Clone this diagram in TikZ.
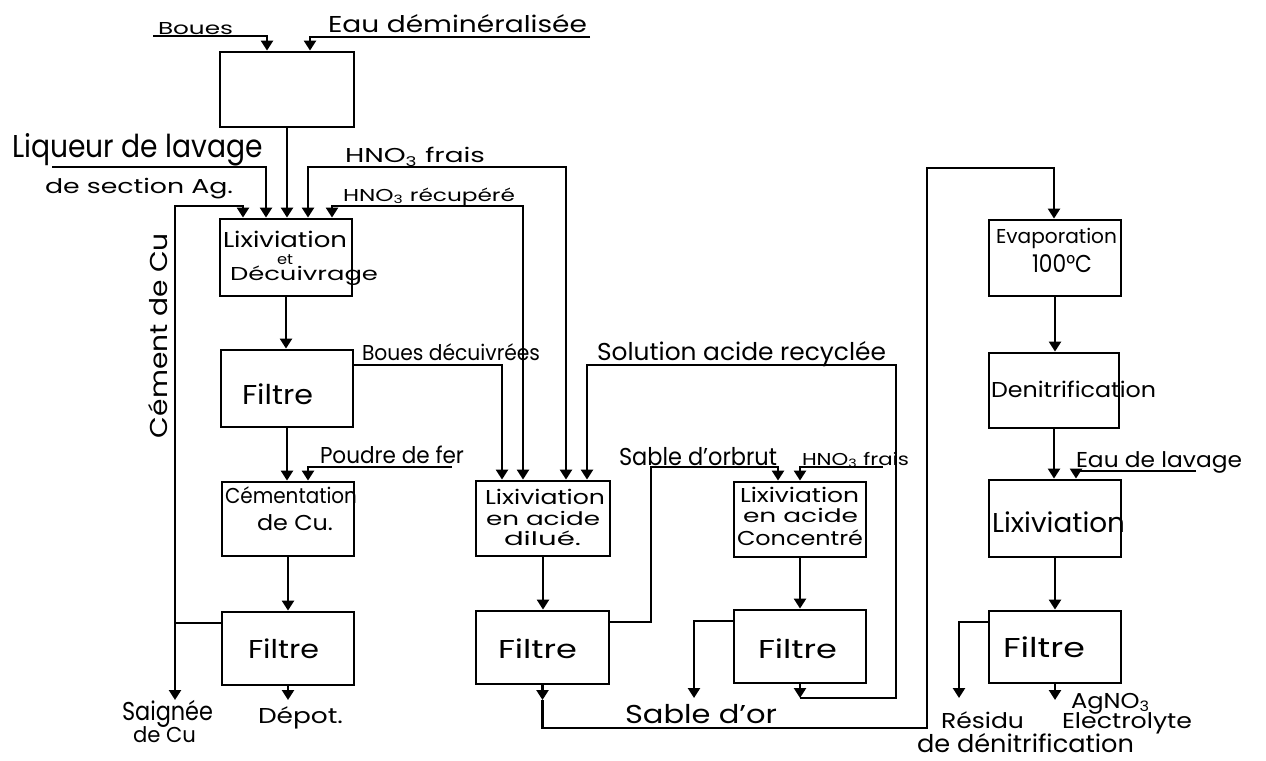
\documentclass[tikz,border=0pt]{standalone}
\usepackage{fontspec}
\setmainfont{Poppins}
\usepackage{graphicx}
\usetikzlibrary{arrows.meta,calc}
% one drawing unit = one pixel of the sheet
\newlength\px
\setlength\px{0.02cm}
% handwritten label: stretched to a given width and cap height (in px)
\newcommand\hw[3]{\resizebox{#1\px}{#2\px}{\vphantom{H}\smash{#3}}}
\tikzset{
  boxn/.style 2 args={draw, line width=1.6pt, rectangle, inner sep=0pt,
    minimum width=#1\px, minimum height=#2\px},
  flow/.style={line width=1.35pt, line join=miter,
    -{Triangle[length=0.2cm,width=0.24cm]}},
  flowb/.style={line width=1.35pt, line join=miter,
    {Triangle[length=0.2cm,width=0.24cm]}-{Triangle[length=0.2cm,width=0.24cm]}},
  txt/.style={inner sep=0pt, outer sep=0pt, anchor=south west,
    font=\fontsize{12}{14}\selectfont},
}
\begin{document}
\begin{tikzpicture}[x=0.02cm,y=-0.02cm]
\path[use as bounding box] (0,0) rectangle (1266,760);

% ---------- process blocks ----------
\node[boxn={134}{75}] (box0)  at (287,89.5)   {};
\node[boxn={132}{77}] (lix1)  at (286,257.5)  {};
\node[boxn={132}{77}] (filt1) at (287,388.5)  {};
\node[boxn={132}{74}] (cem)   at (288,519)    {};
\node[boxn={132}{73}] (filt2) at (288,648.5)  {};
\node[boxn={134}{75}] (lixd)  at (543,518.5)  {};
\node[boxn={133}{73}] (filtd) at (542.5,647.5){};
\node[boxn={132}{75}] (lixc)  at (800,519.5)  {};
\node[boxn={132}{73}] (filtc) at (800,646.5)  {};
\node[boxn={132}{76}] (evap)  at (1055,258)   {};
\node[boxn={130}{75}] (denit) at (1054,390.5) {};
\node[boxn={132}{77}] (lixr)  at (1055,518.5) {};
\node[boxn={132}{72}] (filtr) at (1055,647)   {};

% ---------- texts inside the blocks ----------
\node[txt] (l1a) at (223,247) {\hw{124}{15}{Lixiviation}};
\node[txt] (l1b) at (277,264) {\hw{16}{10}{et}};
\node[txt] (l1c) at (230,280) {\hw{148}{13}{Décuivrage}};
\node[txt] (f1a) at (242,404) {\hw{71}{19}{Filtre}};
\node[txt] (c1a) at (225,503) {\hw{132}{15}{Cémentation}};
\node[txt] (c1b) at (257,530) {\hw{76}{15}{de Cu.}};
\node[txt] (f2a) at (248,658) {\hw{71}{18}{Filtre}};
\node[txt] (lda) at (485,504) {\hw{120}{14}{Lixiviation}};
\node[txt] (ldb) at (486,525) {\hw{114}{13}{en acide}};
\node[txt] (ldc) at (504,545) {\hw{77}{13}{dilué.}};
\node[txt] (fda) at (498,658) {\hw{79}{18}{Filtre}};
\node[txt] (lca) at (740,502) {\hw{119}{14}{Lixiviation}};
\node[txt] (lcb) at (743,522) {\hw{115}{13}{en acide}};
\node[txt] (lcc) at (737,545) {\hw{126}{14}{Concentré}};
\node[txt] (fca) at (758,658) {\hw{79}{18}{Filtre}};
\node[txt] (eva) at (996,243) {\hw{121}{14}{Evaporation}};
\node[txt] (evb) at (1032,272) {\hw{60}{17}{100°C}};
\node[txt] (dna) at (991,397) {\hw{165}{15}{Denitrification}};
\node[txt] (lra) at (992,532) {\hw{133}{19}{Lixiviation}};
\node[txt] (fra) at (1003,657) {\hw{82}{19}{Filtre}};

% ---------- stream labels ----------
\node[txt] (tBoues) at (158,35)  {\hw{75}{12}{Boues}};
\node[txt] (tEau)   at (328,33)  {\hw{259}{16}{Eau déminéralisée}};
\node[txt] (tLiq)   at (12,157)  {\hw{251}{22}{Liqueur de lavage}};
\node[txt] (tSec)   at (45,194)  {\hw{188}{14}{de section Ag.}};
\node[txt] (tHf1)   at (345,163) {\hw{140}{14}{HNO\textsubscript{3} frais}};
\node[txt] (tHr)    at (343,201) {\hw{172}{12}{HNO\textsubscript{3} récupéré}};
\node[txt] (tBd)    at (362,360) {\hw{178}{15}{Boues décuivrées}};
\node[txt] (tSol)   at (597,360) {\hw{289}{17}{Solution acide recyclée}};
\node[txt] (tPdf)   at (320,463) {\hw{144}{16}{Poudre de fer}};
\node[txt] (tSob)   at (619,465) {\hw{158}{17}{Sable d'orbrut}};
\node[txt] (tHf2)   at (802,465) {\hw{107}{12}{HNO\textsubscript{3} frais}};
\node[txt] (tEdl)   at (1076,467){\hw{166}{15}{Eau de lavage}};
\node[txt] (tSai)   at (122,720) {\hw{91}{18}{Saignée}};
\node[txt] (tSai2)  at (133,742) {\hw{63}{15}{de Cu}};
\node[txt] (tDep)   at (258,723) {\hw{85}{15}{Dépot.}};
\node[txt] (tSdo)   at (625,723) {\hw{152}{18}{Sable d'or}};
\node[txt] (tRes)   at (941,728) {\hw{83}{15}{Résidu}};
\node[txt] (tRes2)  at (917,752) {\hw{217}{17}{de dénitrification}};
\node[txt] (tAg)    at (1071,708){\hw{79}{15}{AgNO\textsubscript{3}}};
\node[txt] (tEl)    at (1062,728){\hw{130}{15}{Electrolyte}};
\node[txt, rotate=90] (tCem) at (167,438) {\hw{205}{17}{Cément de Cu}};

% ---------- feeds of the first tank ----------
\coordinate (b0a) at (153,36);  \coordinate (b0b) at (267,36);
\draw[flow] (b0a) -- (b0b) -- (b0b |- box0.north);
\coordinate (e0a) at (590,37);  \coordinate (e0b) at (310,37);
\draw[flow] (e0a) -- (e0b) -- (e0b |- box0.north);
\draw[flow] (box0.south) -- (box0.south |- lix1.north);

% ---------- copper removal line ----------
\coordinate (lq1) at (52,167);  \coordinate (lq2) at (266,167);
\draw[flow] (lq1) -- (lq2) -- (lq2 |- lix1.north);
\coordinate (cu0) at (175,623); \coordinate (cu1) at (175,206);
\coordinate (cu2) at (243,206); \coordinate (cu3) at (175,700);
\draw[flow] (filt2.west |- cu0) -- (cu0) -- (cu1) -- (cu2) -- (cu2 |- lix1.north);
\draw[flow] (cu0) -- (cu3);
\coordinate (hf1) at (308,167); \coordinate (hf2) at (566,167);
\draw[flowb] (hf1 |- lix1.north) -- (hf1) -- (hf2) -- (hf2 |- lixd.north);
\coordinate (hr1) at (332,206); \coordinate (hr2) at (523,206);
\draw[flowb] (hr1 |- lix1.north) -- (hr1) -- (hr2) -- (hr2 |- lixd.north);
\draw[flow] (lix1.south) -- (lix1.south |- filt1.north);
\coordinate (bd1) at (502,365);
\draw[flow] (filt1.east |- bd1) -- (bd1) -- (bd1 |- lixd.north);
\draw[flow] (filt1.south) -- (filt1.south |- cem.north);
\coordinate (pf1) at (452,467); \coordinate (pf2) at (308,467);
\draw[flow] (pf1) -- (pf2) -- (pf2 |- cem.north);
\draw[flow] (cem.south) -- (cem.south |- filt2.north);
\coordinate (dp) at (288,700);
\draw[flow] (filt2.south) -- (dp);

% ---------- acid leaching line ----------
\draw[flow] (lixd.south) -- (lixd.south |- filtd.north);
\coordinate (sb1) at (651,622); \coordinate (sb2) at (651,467);
\coordinate (sb3) at (778,467);
\draw[flow] (filtd.east |- sb1) -- (sb1) -- (sb2) -- (sb3) -- (sb3 |- lixc.north);
\coordinate (hg1) at (883,467); \coordinate (hg2) at (800,467);
\draw[flow] (hg1) -- (hg2) -- (hg2 |- lixc.north);
\draw[flow] (lixc.south) -- (lixc.south |- filtc.north);
\coordinate (so1) at (694,621); \coordinate (so2) at (694,698);
\draw[flow] (filtc.west |- so1) -- (so1) -- (so2);
\coordinate (rc0) at (800,698); \coordinate (rc1) at (896,698);
\coordinate (rc2) at (896,365); \coordinate (rc3) at (587,365);
\draw[flow] (filtc.south) -- (rc0);
\draw[flow] (rc0) -- (rc1) -- (rc2) -- (rc3) -- (rc3 |- lixd.north);

% ---------- silver nitrate line ----------
\coordinate (fd0) at (542.5,700);
\draw[flow] (filtd.south) -- (fd0);
\coordinate (lp1) at (927,728); \coordinate (lp2) at (927,168);
\coordinate (lp3) at (1054,168);
\draw[flow] (fd0) -- (fd0 |- lp1) -- (lp1) -- (lp2) -- (lp3) -- (lp3 |- evap.north);
\draw[flow] (evap.south) -- (evap.south |- denit.north);
\draw[flow] (denit.south) -- (denit.south |- lixr.north);
\coordinate (el1) at (1196,471); \coordinate (el2) at (1076,471);
\draw[flow] (el1) -- (el2) -- (el2 |- lixr.north);
\draw[flow] (lixr.south) -- (lixr.south |- filtr.north);
\coordinate (rs1) at (959,622); \coordinate (rs2) at (959,698);
\draw[flow] (filtr.west |- rs1) -- (rs1) -- (rs2);
\coordinate (ag) at (1055,700);
\draw[flow] (filtr.south) -- (ag);
\end{tikzpicture}
\end{document}
